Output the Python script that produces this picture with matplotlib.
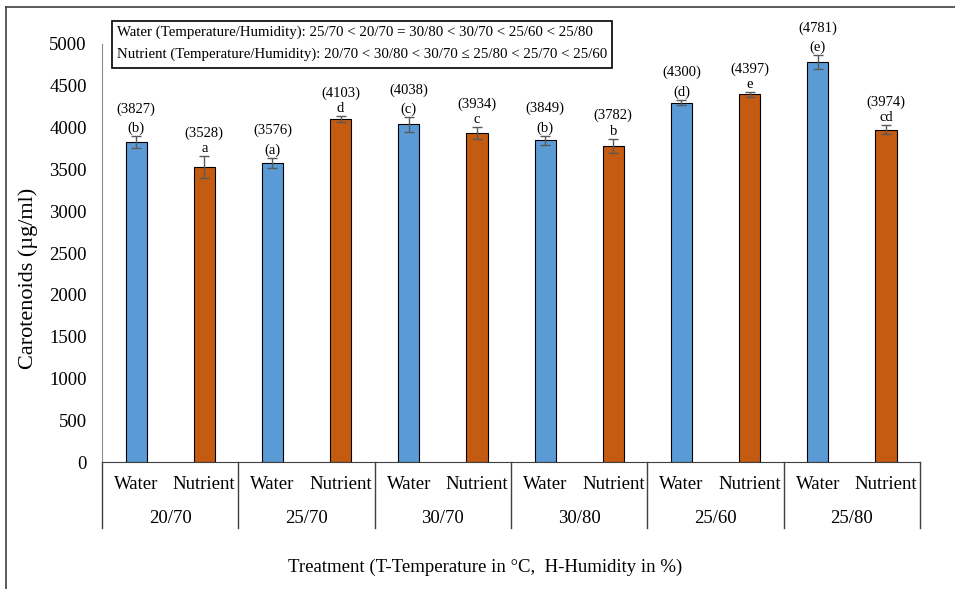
import numpy as np
import matplotlib.pyplot as plt
from matplotlib.patches import Rectangle
from matplotlib.lines import Line2D
from matplotlib import transforms

plt.rcParams['font.family'] = ['Liberation Serif', 'DejaVu Serif']

# treatments (temperature / humidity) and carotenoid means
groups = ['20/70', '25/70', '30/70', '30/80', '25/60', '25/80']
water = [3827, 3576, 4038, 3849, 4300, 4781]
nutrient = [3528, 4103, 3934, 3782, 4397, 3974]
water_err = [70, 65, 85, 55, 35, 85]
nutrient_err = [130, 35, 75, 85, 25, 55]
water_sig = ['(b)', '(a)', '(c)', '(b)', '(d)', '(e)']
nutrient_sig = ['a', 'd', 'c', 'b', 'e', 'cd']

blue = '#5b9bd5'
orange = '#c55a11'

fig = plt.figure(figsize=(9.55, 5.89), dpi=100)
ax = fig.add_axes([0.1068, 0.2156, 0.8566, 0.7097])

n = len(groups)
xw = np.arange(n) * 2
xn = xw + 1
bw = 0.31

ax.bar(xw, water, bw, color=blue, edgecolor='black', linewidth=0.8, zorder=2)
ax.bar(xn, nutrient, bw, color=orange, edgecolor='black', linewidth=0.8, zorder=2)
ax.errorbar(xw, water, yerr=water_err, fmt='none', ecolor='#595959',
            elinewidth=1, capsize=3.5, capthick=1, zorder=3)
ax.errorbar(xn, nutrient, yerr=nutrient_err, fmt='none', ecolor='#595959',
            elinewidth=1, capsize=3.5, capthick=1, zorder=3)

# mean value and significance letter above each bar
for xs, vals, errs, sigs in [(xw, water, water_err, water_sig),
                             (xn, nutrient, nutrient_err, nutrient_sig)]:
    for x, v, e, s in zip(xs, vals, errs, sigs):
        gap = 14 if s.startswith('(') else 11
        ax.annotate(s, (x, v + e), xytext=(0, 3), textcoords='offset points',
                    ha='center', va='baseline', fontsize=10.5)
        ax.annotate(f'({v})', (x, v + e), xytext=(0, 3 + gap),
                    textcoords='offset points', ha='center', va='baseline',
                    fontsize=10.5)

ax.set_xlim(-0.5, 2 * n - 0.5)
ax.set_ylim(0, 5000)
ax.set_yticks(np.arange(0, 5001, 500))
ax.tick_params(axis='y', length=0, pad=11, labelsize=13.5)
ax.set_xticks([])
for side in ['top', 'right']:
    ax.spines[side].set_visible(False)
ax.spines['left'].set_color('#8c8c8c')
ax.spines['bottom'].set_color('#404040')

# two-level category axis
trans = transforms.blended_transform_factory(ax.transData, ax.transAxes)
for x in xw:
    ax.text(x, -0.053, 'Water', transform=trans, ha='center', va='center', fontsize=13.5)
for x in xn:
    ax.text(x, -0.053, 'Nutrient', transform=trans, ha='center', va='center', fontsize=13.5)
for i, g in enumerate(groups):
    ax.text(2 * i + 0.5, -0.136, g, transform=trans, ha='center', va='center', fontsize=13.5)
for b in np.arange(n + 1) * 2 - 0.5:
    ax.add_line(Line2D([b, b], [0, -0.158], transform=trans, color='#404040',
                       linewidth=1, clip_on=False))

ax.set_ylabel('Carotenoids (µg/ml)', fontsize=16)
ax.yaxis.set_label_coords(-0.078, 0.44)
fig.text(0.508, 0.037, 'Treatment (T-Temperature in °C,  H-Humidity in %)',
         ha='center', va='center', fontsize=13.5)

# ranking note box
fig.add_artist(Rectangle((112 / 955, 1 - 68 / 589), 500 / 955, 47 / 589,
                         transform=fig.transFigure, facecolor='white',
                         edgecolor='black', linewidth=1.2))
fig.text(117 / 955, 1 - 32 / 589,
         'Water (Temperature/Humidity): 25/70 < 20/70 = 30/80 < 30/70 < 25/60 < 25/80',
         ha='left', va='center', fontsize=10.7)
fig.text(117 / 955, 1 - 54 / 589,
         'Nutrient (Temperature/Humidity): 20/70 < 30/80 < 30/70 ≤ 25/80 < 25/70 < 25/60',
         ha='left', va='center', fontsize=10.7)

# outer frame
fig.add_artist(Line2D([6 / 955, 6 / 955], [0, 1 - 7 / 589], transform=fig.transFigure,
                      color='#404040', linewidth=1.2))
fig.add_artist(Line2D([6 / 955, 1], [1 - 7 / 589, 1 - 7 / 589], transform=fig.transFigure,
                      color='#404040', linewidth=1.2))

fig.savefig('out.png', dpi=100)
